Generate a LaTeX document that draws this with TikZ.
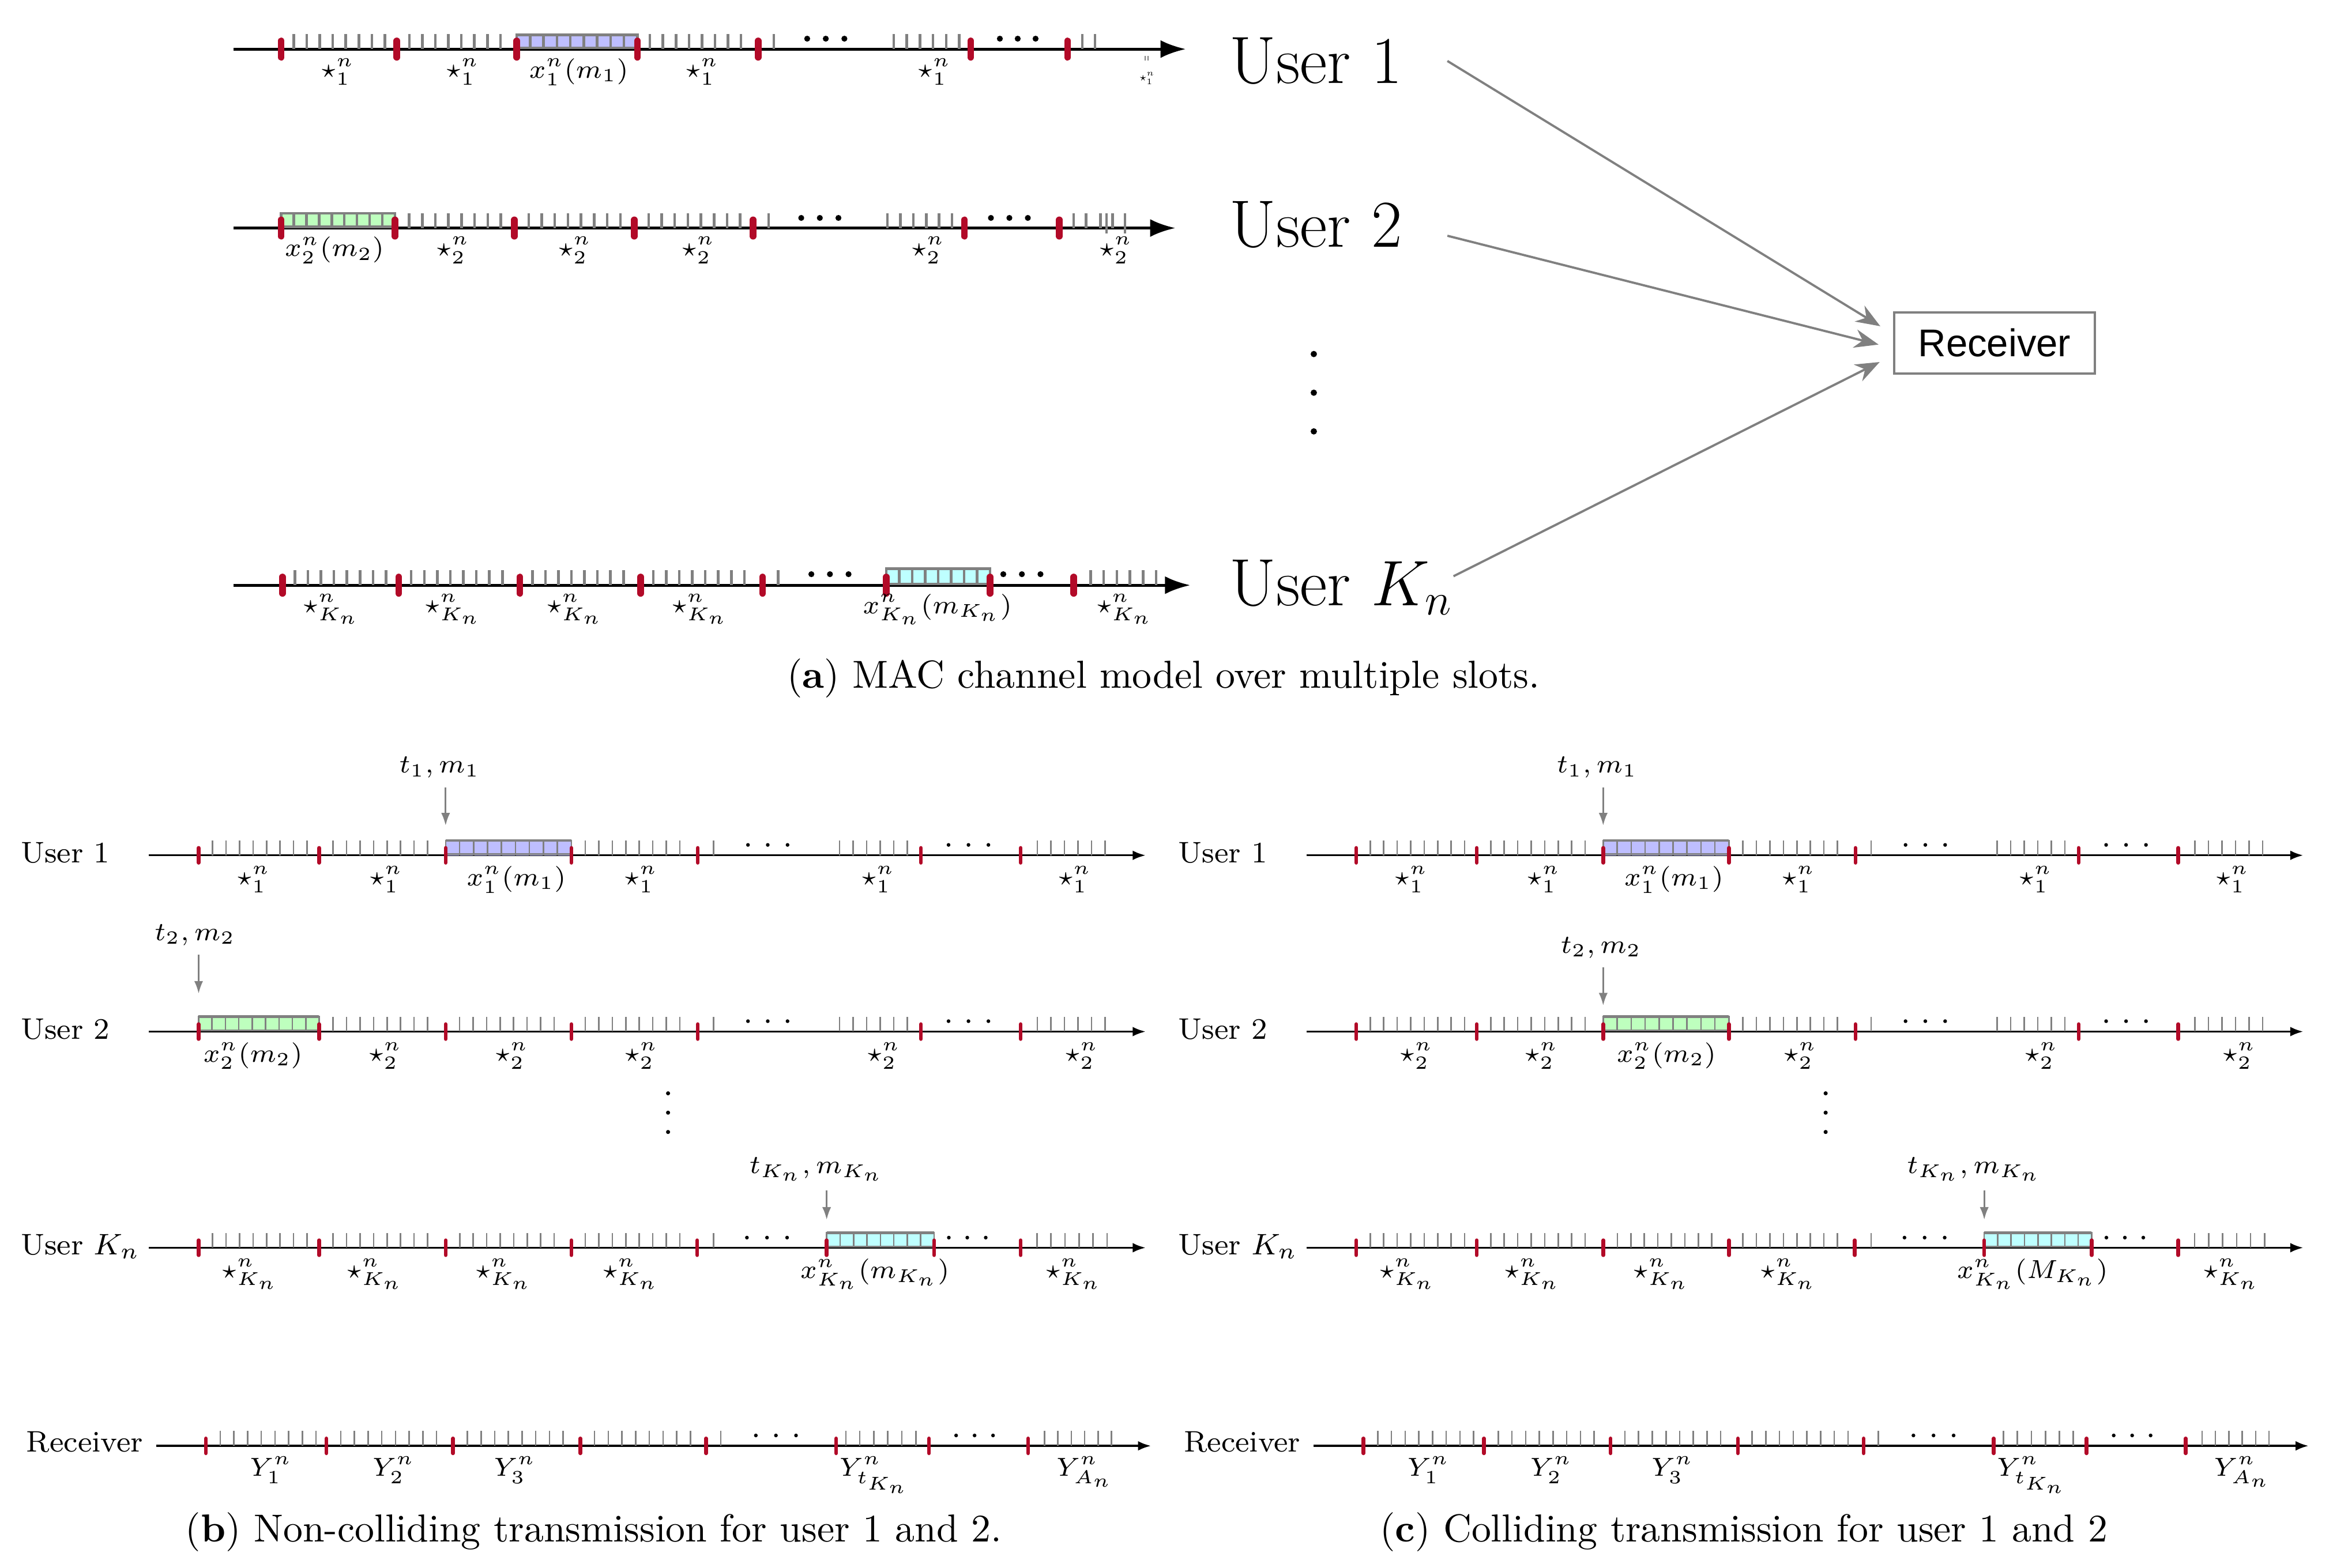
\documentclass[tikz,border=0pt]{standalone}
\usepackage{fontspec}
\newfontfamily\rxfont{Liberation Sans}
\usetikzlibrary{arrows.meta,positioning}

\definecolor{slotred}{RGB}{178,10,40}
\definecolor{tickgray}{RGB}{128,128,128}
\definecolor{pktblue}{RGB}{190,190,255}
\definecolor{pktgreen}{RGB}{190,255,190}
\definecolor{pktcyan}{RGB}{190,255,255}

\tikzset{
  axisA/.style={line width=0.8pt, -{Latex[length=6.8pt,width=4.8pt]}},
  axisB/.style={line width=0.55pt, -{Latex[length=3.5pt,width=2.6pt]}},
  markA/.style={draw=slotred, line width=1.8pt, line cap=round},
  markB/.style={draw=slotred, line width=1pt, line cap=round},
  tickA/.style={draw=tickgray, line width=0.7pt},
  tickB/.style={draw=tickgray, line width=0.4pt},
  lbl/.style={font=\scriptsize, anchor=north, inner sep=0.3pt},
  tlbl/.style={font=\scriptsize, inner sep=0.3pt},
  userA/.style={font=\fontsize{18}{21}\selectfont, anchor=base west, inner sep=0pt},
  userB/.style={font=\footnotesize, anchor=base west, inner sep=0pt},
  rxbox/.style={draw=tickgray, line width=0.6pt, minimum width=54pt, minimum height=16.4pt,
    inner sep=0pt, font=\rxfont\fontsize{10.4}{12}\selectfont},
  link/.style={draw=tickgray, line width=0.6pt, -{Stealth[length=6.5pt,width=5pt]}, shorten >=4pt},
  pointer/.style={draw=tickgray, line width=0.45pt, -{Latex[length=3.4pt,width=2.4pt]}, shorten <=2pt},
  caption/.style={font=\fontsize{10.5}{12.5}\selectfont, inner sep=0pt}
}

% a run of n gray ticks: [style]{y}{first x}{step}{n}
\newcommand{\tickrun}[5][tickB]{%
  \foreach \k in {1,...,#5} \draw[#1] ({#3+(\k-1)*#4},#2) -- ++(0,-10);}
% eight ticks in each slot: [style]{y}{slot starts}{offset}{step}
\newcommand{\slotticks}[5][tickB]{%
  \foreach \r in {#3} {\tickrun[#1]{#2}{\r+#4}{#5}{8}}}
% red slot boundaries: [style]{y}{half length}{x list}
\newcommand{\slotmarks}[4][markB]{%
  \foreach \x in {#4} \draw[#1] (\x,#2-#3) -- (\x,#2+#3);}
% three dots: {y}{first x}{step}{radius}
\newcommand{\dotrun}[4]{%
  \foreach \d in {0,1,2} \fill ({#2+\d*#3},#1) circle (#4);}
% codeword box: [style]{y}{height}{x0}{x1}{colour}{inner lines}
\newcommand{\packet}[7][tickB]{%
  \fill[#6] (#4,#2) rectangle (#5,#2-#3);
  \foreach \k in {1,...,#7} \draw[#1] ({#4+(#5-#4)*\k/(#7+1)},#2) -- ++(0,-#3);
  \draw[#1] (#4,#2-0.8) rectangle (#5,#2-#3);
  \draw[#1, line width=0.7pt] (#4,#2-#3) -- (#5,#2-#3);}

% rows shared by (b) and (c)
\newcommand{\rowone}[1]{%
  \draw[axisB] (100,575) -- (770,575);
  \slotticks{575}{133.5,214.5,384}{9.4}{9.07}
  \packet{575}{10}{299.5}{384}{pktblue}{8}
  \tickrun{575}{479.5}{9}{1}
  \dotrun{568}{502.7}{13.3}{0.5pt}
  \tickrun{575}{564.3}{9.1}{6}
  \dotrun{568}{637.5}{13.4}{0.5pt}
  \tickrun{575}{697.2}{9.1}{6}
  \slotmarks{575}{5}{133.5,214.5,299.5,384,469,619,686}
  \node[userB] (#1u1) at (13.5,580) {User 1};
  \foreach \x/\lab [count=\i] in {170.5/{$\star_1^n$},259.5/{$\star_1^n$},347/{$x_1^n(m_1)$},
      430.8/{$\star_1^n$},590.2/{$\star_1^n$},722.4/{$\star_1^n$}}
    \node[lbl] (#1l1\i) at (\x,581) {\lab};
  \node[tlbl] (#1tm1) at (295.4,516) {$t_1,m_1$};
  \coordinate (#1hit1) at (299.5,555);
  \draw[pointer] (#1tm1.south -| #1hit1) -- (#1hit1);}

\newcommand{\rowkay}[2]{%
  \draw[axisB] (100,838.8) -- (770,838.8);
  \slotticks{838.8}{133.5,214.5,299.6,384}{9.4}{9.07}
  \tickrun{838.8}{479.5}{9}{1}
  \dotrun{832}{502}{13.5}{0.5pt}
  \packet{838.8}{10}{555.6}{627.8}{pktcyan}{7}
  \dotrun{832}{637.7}{12.4}{0.5pt}
  \tickrun{838.8}{697}{9.4}{6}
  \slotmarks{838.8}{5}{133.5,214.5,299.6,384,468.6,555.6,627.8,686}
  \node[userB] (#1uk) at (13.5,843.5) {User $K_n$};
  \foreach \x/\lab [count=\i] in {168/{$\star_{K_n}^n$},252/{$\star_{K_n}^n$},338.6/{$\star_{K_n}^n$},
      424/{$\star_{K_n}^n$},588/{#2},721.7/{$\star_{K_n}^n$}}
    \node[lbl] (#1lk\i) at (\x,845) {\lab};
  \node[tlbl] (#1tmk) at (548.7,786) {$t_{K_n},m_{K_n}$};
  \coordinate (#1hitk) at (555.6,820);
  \draw[pointer] (#1tmk.south -| #1hitk) -- (#1hitk);
  \foreach \yy in {735,748,761} \fill (449,\yy) circle (0.55pt);}

\newcommand{\rowrx}[1]{%
  \draw[axisB] (105,972) -- (773.6,972);
  \slotticks{972}{138.4,219.4,304.5,390}{9.6}{9.2}
  \tickrun{972}{484.5}{9}{1}
  \dotrun{965}{508}{13.5}{0.5pt}
  \tickrun{972}{568.5}{9.4}{6}
  \dotrun{965}{642.6}{12.4}{0.5pt}
  \tickrun{972}{702}{9}{6}
  \slotmarks{972}{5}{138.4,219.4,304.5,390,474.5,562,624.4,691}
  \node[userB] (#1rx) at (17.3,976) {Receiver};
  \foreach \x/\lab [count=\i] in {182/{$Y_1^n$},264.5/{$Y_2^n$},346/{$Y_3^n$},
      588/{$Y_{t_{K_n}}^n$},729/{$Y_{A_n}^n$}}
    \node[lbl] (#1ly\i) at (\x,978) {\lab};}

\begin{document}
\begin{tikzpicture}[x=0.4pt, y=-0.4pt]
\useasboundingbox (0,0) rectangle (1568,1054);

% ---------------- (a) MAC channel model
% User 1
\draw[axisA] (157,33) -- (797,33);
\slotticks[tickA]{33}{189,266.7,428.4}{8.4}{8.75}
\packet[tickA]{33}{9.5}{347.3}{428.4}{pktblue}{8}
\tickrun[tickA]{33}{520}{9}{1}
\dotrun{26}{542.5}{12.5}{0.8pt}
\tickrun[tickA]{33}{600.7}{8.8}{6}
\dotrun{26}{672}{12}{0.8pt}
\tickrun[tickA]{33}{727.5}{8.5}{2}
\slotmarks[markA]{33}{5.5}{189,266.7,347.3,428.4,509.5,652.4,717.5}
\foreach \x/\lab [count=\i] in {227/{$\star_1^n$},311/{$\star_1^n$},389/{$x_1^n(m_1)$},472/{$\star_1^n$},628/{$\star_1^n$}}
  \node[lbl] (a1l\i) at (\x,38) {\lab};
\node[lbl, scale=0.45] (a1l6) at (771,48) {$\star_1^n$};
\draw[tickB, line width=0.3pt] (769.6,37.5) -- ++(0,3) (771.6,37.5) -- ++(0,3);
\node[userA] (u1) at (826,56) {User 1};

% User 2
\draw[axisA] (157,153.3) -- (790,153.3);
\packet[tickA]{153.3}{10}{189}{265.4}{pktgreen}{8}
\slotticks[tickA]{153.3}{265.4,345.7,426.3}{9.6}{8.8}
\tickrun[tickA]{153.3}{516.6}{9}{1}
\dotrun{146.5}{538.5}{12.5}{0.8pt}
\tickrun[tickA]{153.3}{596.4}{8.7}{6}
\dotrun{146.5}{666}{12.4}{0.8pt}
\foreach \x in {721.6,730,739.6,747.8} \draw[tickA] (\x,153.3) -- ++(0,-10);
\foreach \x in {743.7,756} \draw[tickA] (\x,157) -- (\x,143.3);
\slotmarks[markA]{153.3}{5.5}{189,265.4,345.7,426.3,506.2,648.2,712}
\foreach \x/\lab [count=\i] in {224.8/{$x_2^n(m_2)$},304.5/{$\star_2^n$},386.4/{$\star_2^n$},469.4/{$\star_2^n$},623.8/{$\star_2^n$},750/{$\star_2^n$}}
  \node[lbl] (a2l\i) at (\x,158) {\lab};
\node[userA] (u2) at (826,166) {User 2};

% User K_n
\draw[axisA] (157,393.4) -- (800,393.4);
\slotticks[tickA]{393.4}{189.8,268,349.4,430.6}{8.4}{8.75}
\tickrun[tickA]{393.4}{523}{9}{1}
\dotrun{386}{545.3}{12.5}{0.8pt}
\packet[tickA]{393.4}{11}{595.7}{665.4}{pktcyan}{7}
\dotrun{386}{674.3}{12.5}{0.8pt}
\tickrun[tickA]{393.4}{733}{8.8}{6}
\slotmarks[markA]{393.4}{5.5}{189.8,268,349.4,430.6,512.5,595.7,665.4,721.7}
\foreach \x/\lab [count=\i] in {222.6/{$\star_{K_n}^n$},304.5/{$\star_{K_n}^n$},386.4/{$\star_{K_n}^n$},470.5/{$\star_{K_n}^n$},630/{$x_{K_n}^n(m_{K_n})$},756/{$\star_{K_n}^n$}}
  \node[lbl] (akl\i) at (\x,398) {\lab};
\node[userA] (uk) at (826,407) {User $K_n$};

\foreach \yy in {238,264,290} \fill (883,\yy) circle (0.85pt);

\node[rxbox] (rx) at (1340.5,230.5) {Receiver};
\draw[link] ([xshift=12pt]u1.east) -- (rx.175);
\draw[link] ([xshift=12pt,yshift=-3pt]u2.east) -- (rx.183);
\draw[link] ([yshift=3pt]uk.east) -- (rx.187);

\node[caption] (capa) at (782,456) {({\bfseries a}) MAC channel model over multiple slots.};

% ---------------- (b) non-colliding
\rowone{b}
% User 2
\draw[axisB] (100,693.5) -- (770,693.5);
\packet{693.5}{10}{133.5}{214.5}{pktgreen}{8}
\slotticks{693.5}{214.5,299.5,384}{9.4}{9.07}
\tickrun{693.5}{479.5}{9}{1}
\dotrun{686.5}{502.7}{13.3}{0.5pt}
\tickrun{693.5}{564.3}{9.1}{6}
\dotrun{686.5}{637.5}{13.4}{0.5pt}
\tickrun{693.5}{697.2}{9.1}{6}
\slotmarks{693.5}{5}{133.5,214.5,299.5,384,469,619,686}
\node[userB] (bu2) at (13.5,698.5) {User 2};
\foreach \x/\lab [count=\i] in {170/{$x_2^n(m_2)$},259/{$\star_2^n$},344/{$\star_2^n$},431/{$\star_2^n$},594/{$\star_2^n$},727/{$\star_2^n$}}
  \node[lbl] (bl2\i) at (\x,699.5) {\lab};
\node[tlbl] (btm2) at (131,628.5) {$t_2,m_2$};
\coordinate (bhit2) at (133.5,668);
\draw[pointer] (btm2.south -| bhit2) -- (bhit2);
\rowkay{b}{$x_{K_n}^n(m_{K_n})$}
\rowrx{b}
\node[caption] (capb) at (399,1030) {({\bfseries b}) Non-colliding transmission for user 1 and 2.};

% ---------------- (c) colliding
\begin{scope}[shift={(778,0)}]
\rowone{c}
% User 2
\draw[axisB] (100,693.5) -- (770,693.5);
\slotticks{693.5}{133.5,214.5,384}{9.4}{9.07}
\packet{693.5}{10}{299.5}{384}{pktgreen}{8}
\tickrun{693.5}{479.5}{9}{1}
\dotrun{686.5}{502.7}{13.3}{0.5pt}
\tickrun{693.5}{564.3}{9.1}{6}
\dotrun{686.5}{637.5}{13.4}{0.5pt}
\tickrun{693.5}{697.2}{9.1}{6}
\slotmarks{693.5}{5}{133.5,214.5,299.5,384,469,619,686}
\node[userB] (cu2) at (13.5,698.5) {User 2};
\foreach \x/\lab [count=\i] in {174/{$\star_2^n$},258/{$\star_2^n$},342/{$x_2^n(m_2)$},432/{$\star_2^n$},594/{$\star_2^n$},727/{$\star_2^n$}}
  \node[lbl] (cl2\i) at (\x,699.5) {\lab};
\node[tlbl] (ctm2) at (298,637) {$t_2,m_2$};
\coordinate (chit2) at (299.5,676);
\draw[pointer] (ctm2.south -| chit2) -- (chit2);
\rowkay{c}{$x_{K_n}^n(M_{K_n})$}
\rowrx{c}
\end{scope}
\node[caption] (capc) at (1172,1030) {({\bfseries c}) Colliding transmission for user 1 and 2};
\end{tikzpicture}
\end{document}
